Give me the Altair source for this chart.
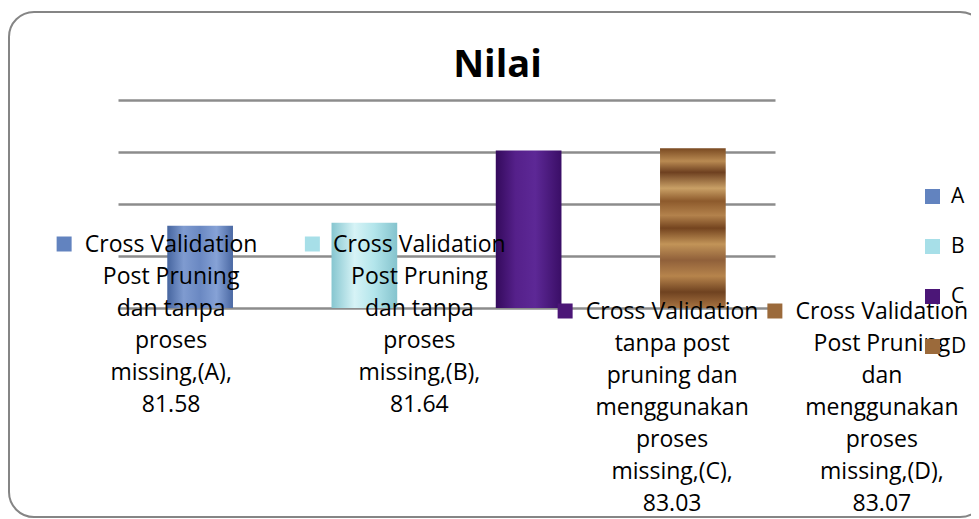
import altair as alt
import pandas as pd

# ---------------- data ----------------
codes = ["A", "B", "C", "D"]
values = [81.58, 81.64, 83.03, 83.07]
label_lines = [
    ["Cross Validation", "Post Pruning", "dan tanpa", "proses", "missing,(A),"],
    ["Cross Validation", "Post Pruning", "dan tanpa", "proses", "missing,(B),"],
    ["Cross Validation", "tanpa post", "pruning dan", "menggunakan", "proses", "missing,(C),"],
    ["Cross Validation", "Post Pruning", "dan", "menggunakan", "proses", "missing,(D),"],
]
grid_values = [80, 81, 82, 83, 84]
title_text = "Nilai"

# ---------------- styles ----------------
FONT = "Open Sans"
KEY_COLORS = ["#6283bf", "#a7dfe8", "#4b1677", "#9b6a3b"]
BAR_STOPS = [
    [(0, "#46659f"), (0.25, "#7f9bd0"), (0.5, "#6a88c2"), (0.75, "#86a2d6"), (1, "#4a68a3")],
    [(0, "#86c6d0"), (0.35, "#d6f3f6"), (0.65, "#b3e5eb"), (1, "#84c3cd")],
    [(0, "#340a5c"), (0.3, "#55208a"), (0.6, "#5d2896"), (1, "#3a0e66")],
    [(0, "#7a4a22"), (0.08, "#b98a52"), (0.15, "#6e4020"), (0.25, "#c9a066"), (0.33, "#8d5a2c"),
     (0.42, "#b3824c"), (0.5, "#74441f"), (0.6, "#c29458"), (0.7, "#90603a"), (0.8, "#b6844c"),
     (0.9, "#6f4220"), (1, "#a87442")],
]
BAR_VERTICAL = [False, False, False, True]
LABEL_DX = [-29, 55, 143.5, 189]
LABEL_LINE1 = [145, 145, 212, 212]   # centre of first label line, px from plot top
KEY_DX = -107
FS = 23
LH = 32

df = pd.DataFrame({
    "code": codes,
    "value": values,
    "label": ["\n".join(lines + [f"{v:.2f}"]) for lines, v in zip(label_lines, values)],
})

xenc = alt.X("code:N", scale=alt.Scale(domain=codes, paddingInner=0.6, paddingOuter=0.3), axis=None)
yenc = alt.Y("value:Q",
             scale=alt.Scale(domain=[80, 84], zero=False, nice=False),
             axis=alt.Axis(values=grid_values, grid=True, labels=False, ticks=False,
                           domain=False, title=None, gridColor="#8c8c8c", gridWidth=2.5))

base = alt.Chart(df)
layers = []

for i, c in enumerate(codes):
    stops = [alt.GradientStop(offset=o, color=col) for o, col in BAR_STOPS[i]]
    if BAR_VERTICAL[i]:
        grad = alt.Gradient(gradient="linear", stops=stops, x1=0, x2=0, y1=0, y2=1)
    else:
        grad = alt.Gradient(gradient="linear", stops=stops, x1=0, x2=1, y1=0, y2=0)
    layers.append(
        base.transform_filter(alt.datum.code == c)
        .mark_bar(color=grad)
        .encode(x=xenc, y=yenc, y2=alt.datum(80))
    )

color_enc = alt.Color(
    "code:N",
    scale=alt.Scale(domain=codes, range=KEY_COLORS),
    legend=alt.Legend(title=None, orient="none", legendX=804, legendY=86,
                      symbolType="square", symbolSize=225, symbolStrokeWidth=0,
                      labelFontSize=21, labelFont=FONT, labelColor="black",
                      rowPadding=28, labelOffset=8, padding=0),
)

for i, c in enumerate(codes):
    layers.append(
        base.transform_filter(alt.datum.code == c)
        .mark_text(align="center", baseline="top", lineBreak="\n", fontSize=FS,
                   lineHeight=LH, font=FONT, color="black", dx=LABEL_DX[i])
        .encode(x=xenc, y=alt.value(LABEL_LINE1[i] - 0.46 * FS), text="label:N")
    )
    layers.append(
        base.transform_filter(alt.datum.code == c)
        .mark_square(size=225, filled=True, opacity=1, xOffset=LABEL_DX[i] + KEY_DX)
        .encode(x=xenc, y=alt.value(LABEL_LINE1[i] - 1), color=color_enc)
    )

one = alt.Data(values=[{}])
title = alt.Chart(one).mark_text(
    text=title_text, font=FONT, fontSize=38, fontWeight="bold", color="black",
    align="center", baseline="alphabetic"
).encode(x=alt.value(379.5), y=alt.value(-23))

border = alt.Chart(one).mark_rect(
    filled=False, stroke="#858585", strokeWidth=2, cornerRadius=25
).encode(x=alt.value(-109), x2=alt.value(867), y=alt.value(-88), y2=alt.value(417))

chart = alt.layer(border, *layers, title).properties(
    width=657, height=208,
    autosize=alt.AutoSizeParams(type="none"),
    padding={"left": 110, "top": 92, "right": 196, "bottom": 211},
).configure(background="white", view=alt.ViewConfig(stroke=None))

chart.save("out.html", embed_options={"renderer": "svg", "actions": False})
